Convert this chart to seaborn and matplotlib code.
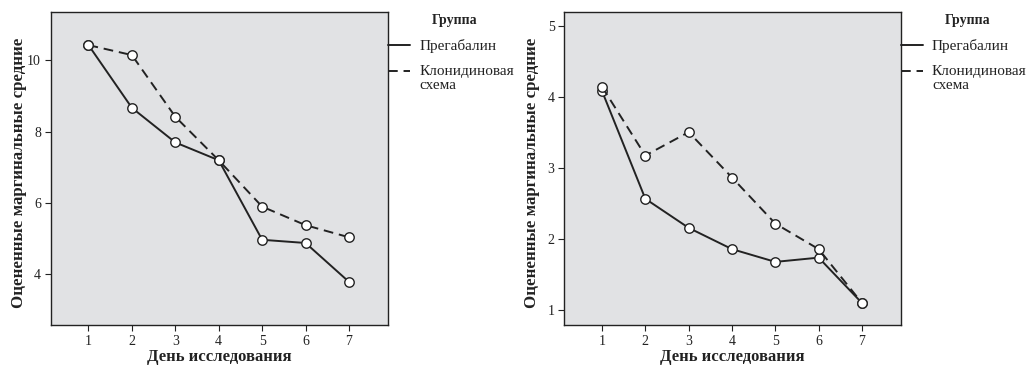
import matplotlib
matplotlib.use("Agg")
import matplotlib.pyplot as plt
from matplotlib.lines import Line2D
import pandas as pd
import seaborn as sns

days = [1, 2, 3, 4, 5, 6, 7]
groups = ["Прегабалин", "Клонидиновая\nсхема"]

# Estimated marginal means, first outcome
left_pregabalin = [10.43, 8.67, 7.70, 7.20, 4.97, 4.88, 3.79]
left_clonidine = [10.43, 10.15, 8.42, 7.20, 5.90, 5.38, 5.04]

# Estimated marginal means, second outcome
right_pregabalin = [4.09, 2.57, 2.16, 1.86, 1.68, 1.74, 1.10]
right_clonidine = [4.15, 3.18, 3.51, 2.87, 2.22, 1.86, 1.10]

left_yticks = [4, 6, 8, 10]
right_yticks = [1, 2, 3, 4, 5]

x_label = "День исследования"
y_label = "Оцененные маргинальные средние"
legend_title = "Группа"

sns.set_theme(style="ticks")
plt.rcParams["font.family"] = ["Liberation Serif", "DejaVu Serif"]

INK = "#222222"
PANEL = "#e1e2e4"
DASH = (5, 3)


def frame(pregabalin, clonidine):
    return pd.DataFrame({
        "day": days * 2,
        "value": pregabalin + clonidine,
        "group": [groups[0]] * len(days) + [groups[1]] * len(days),
    })


def draw_panel(ax, pregabalin, clonidine, yticks, ylim):
    df = frame(pregabalin, clonidine)
    sns.lineplot(
        data=df, x="day", y="value", style="group", style_order=groups,
        dashes={groups[0]: (), groups[1]: DASH},
        markers={groups[0]: "o", groups[1]: "o"},
        color=INK, linewidth=1.4, markersize=6.8,
        markerfacecolor="white", markeredgecolor=INK, markeredgewidth=1.0,
        legend=False, ax=ax,
    )
    ax.set_facecolor(PANEL)
    ax.set_xlim(0.13, 7.9)
    ax.set_ylim(*ylim)
    ax.set_xticks(days)
    ax.set_yticks(yticks)
    ax.tick_params(axis="both", labelsize=10, length=4, width=0.8,
                   color=INK, labelcolor=INK, pad=3)
    for side in ax.spines.values():
        side.set_color(INK)
        side.set_linewidth(1.0)
    ax.set_xlabel(x_label, fontsize=12, fontweight="bold", color=INK, labelpad=1)
    ax.set_ylabel(y_label, fontsize=12.2, fontweight="bold", color=INK)
    ax.yaxis.set_label_coords(-0.071, 0.486)

    # legend to the right of the panel
    ax.text(1.13, 0.973, legend_title, transform=ax.transAxes, fontsize=10,
            fontweight="bold", color=INK, va="center", ha="left")
    for y, dash, label in [(0.895, "-", groups[0]), (0.813, "--", groups[1])]:
        ln = Line2D([1.0, 1.065], [y, y], transform=ax.transAxes, color=INK,
                    linewidth=1.4, linestyle=dash, clip_on=False)
        if dash == "--":
            ln.set_dashes(DASH)
        ax.add_artist(ln)
        ax.text(1.092, y + 0.019, label, transform=ax.transAxes, fontsize=11,
                color=INK, va="top", ha="left", linespacing=1.15)


fig = plt.figure(figsize=(10.29, 3.65), dpi=100)
ax1 = fig.add_axes([0.0493, 0.1096, 0.3278, 0.8567])
ax2 = fig.add_axes([0.5484, 0.1096, 0.3272, 0.8567])

draw_panel(ax1, left_pregabalin, left_clonidine, left_yticks, (2.58, 11.35))
draw_panel(ax2, right_pregabalin, right_clonidine, right_yticks, (0.79, 5.2))

fig.savefig("out.png", dpi=100)
